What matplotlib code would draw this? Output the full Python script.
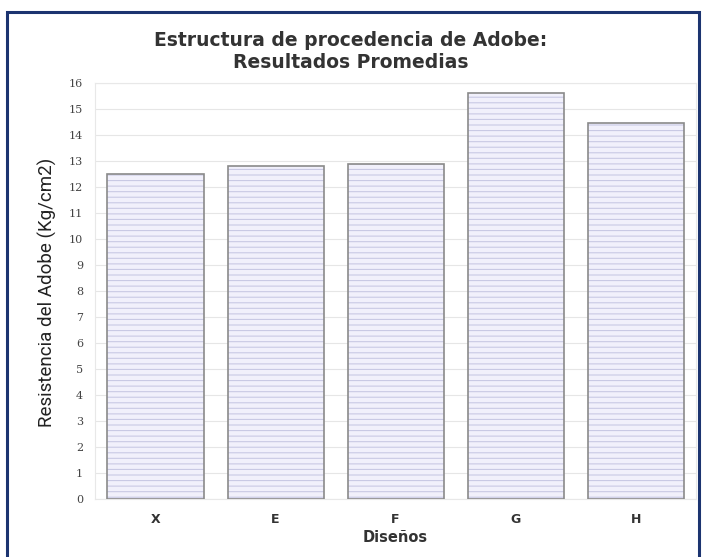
import matplotlib
matplotlib.use("Agg")
import matplotlib.pyplot as plt
from matplotlib.patches import Rectangle

# datos
disenos = ["X", "E", "F", "G", "H"]
resistencia = [12.5, 12.8, 12.9, 15.6, 14.45]
ticks_y = list(range(0, 17))

fig = plt.figure(figsize=(7.02, 5.57), dpi=100)
ax = fig.add_axes([0.136, 0.104, 0.855, 0.747])

plt.rcParams['hatch.linewidth'] = 0.8

x = list(range(len(disenos)))
# relleno con rayado horizontal
ax.bar(x, resistencia, width=0.8, color='#f1f0fb', edgecolor='#c9c9e4',
       hatch='---', linewidth=0, zorder=2)
# contorno de las barras
ax.bar(x, resistencia, width=0.8, fill=False, edgecolor='#8a8a8a',
       linewidth=1.2, zorder=3)

ax.set_xlim(-0.5, len(disenos) - 0.5)
ax.set_ylim(0, 16)
ax.set_yticks(ticks_y)
ax.set_yticklabels([str(t) for t in ticks_y], family='DejaVu Serif',
                   fontsize=8, color='#444444')
ax.set_xticks(x)
ax.set_xticklabels(disenos, fontweight='bold', fontsize=9, color='#333333')
ax.tick_params(length=0, pad=9)
ax.tick_params(axis='x', pad=10)
ax.grid(axis='y', color='#e6e6e6', linewidth=0.8, zorder=0)
ax.set_axisbelow(True)
for s in ax.spines.values():
    s.set_color('#e8e8e8')

ax.set_xlabel('Diseños', fontweight='bold', fontsize=10.5, color='#333333',
              labelpad=3)
fig.text(0.068, 1 - 292 / 557, 'Resistencia del Adobe (Kg/cm2)', rotation=90,
         ha='center', va='center', fontsize=13.5, family='Roboto',
         fontstretch='condensed', color='#222222')

fig.text(0.499, 1 - 40 / 557, 'Estructura de procedencia de Adobe:',
         ha='center', va='center', fontweight='bold', fontsize=13.5,
         color='#333333')
fig.text(0.499, 1 - 63 / 557, 'Resultados Promedias',
         ha='center', va='center', fontweight='bold', fontsize=13.5,
         color='#333333')

# marco azul alrededor de la figura
fig.patches.append(Rectangle((7 / 702, -0.02), 692 / 702, 1 - 12 / 557 + 0.02,
                             transform=fig.transFigure, fill=False,
                             edgecolor='#1c3470', linewidth=2.2))

fig.savefig('out.png', dpi=100)
